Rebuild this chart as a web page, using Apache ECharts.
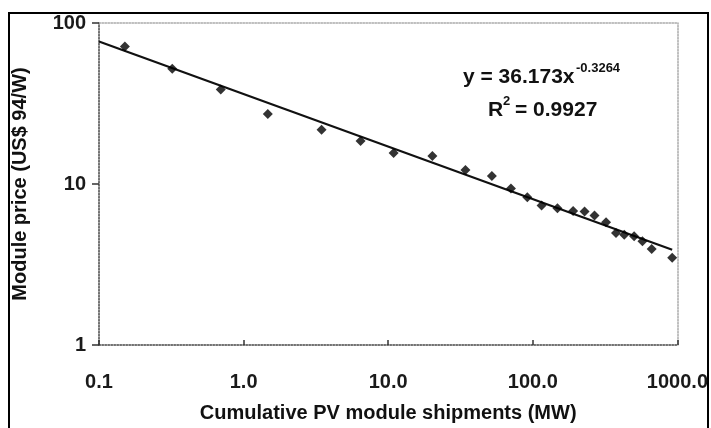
<!DOCTYPE html>
<html>
<head>
<meta charset="utf-8">
<script src="https://cdn.jsdelivr.net/npm/echarts@6/dist/echarts.min.js"></script>
<style>
html,body{margin:0;padding:0;background:#fff;}
#chart{width:711px;height:428px;}
</style>
</head>
<body>
<div id="chart"></div>
<script>
// Cumulative PV module shipments (MW)
const shipments = [0.151, 0.321, 0.695, 1.47, 3.46, 6.44, 10.9, 20.2, 34.2, 52.1, 70.6, 91.6, 115, 148, 190, 228, 267, 321, 376, 429, 502, 573, 664, 920];
// Module price (US$ 94/W)
const prices = [71.5, 51.9, 38.7, 27.2, 21.7, 18.5, 15.6, 14.9, 12.2, 11.2, 9.38, 8.26, 7.34, 7.06, 6.80, 6.75, 6.37, 5.79, 4.96, 4.84, 4.73, 4.41, 3.95, 3.48];
// Power-law trendline end points
const trendX = [0.1, 920];
const trendY = [76.7, 3.9];
// Tick labels
const xTickLabels = ['0.1', '1.0', '10.0', '100.0', '1000.0'];
const yTickLabels = ['1', '10', '100'];
const equationText = 'y = 36.173x';
const exponentText = '-0.3264';
const r2Text = '= 0.9927';

const FONT = 'Liberation Sans, Arial, sans-serif';
const chart = echarts.init(document.getElementById('chart'));

const option = {
  animation: false,
  backgroundColor: '#fff',
  grid: { left: 99, top: 23, right: 29, bottom: 80 },
  xAxis: [{
    type: 'log', logBase: 10, min: 0.1, max: 1000, position: 'bottom',
    axisLine: { show: true, lineStyle: { color: '#444', type: 'dotted', width: 1.5 } },
    axisTick: { show: true, inside: true, length: 5, lineStyle: { color: '#333', width: 1.5 } },
    minorTick: { show: false },
    splitLine: { show: false },
    axisLabel: {
      margin: 27, fontSize: 20, fontWeight: 'bold', color: '#1a1a1a', fontFamily: FONT,
      formatter: v => xTickLabels[Math.round(Math.log10(v)) + 1]
    },
    name: 'Cumulative PV module shipments (MW)',
    nameLocation: 'middle', nameGap: 58,
    nameTextStyle: { fontSize: 20, fontWeight: 'bold', color: '#111', fontFamily: FONT }
  }, {
    type: 'log', logBase: 10, min: 0.1, max: 1000, position: 'top',
    axisLine: { show: true, lineStyle: { color: '#aaa', type: 'dotted', width: 1.5 } },
    axisTick: { show: false }, axisLabel: { show: false }, splitLine: { show: false }
  }],
  yAxis: [{
    type: 'log', logBase: 10, min: 1, max: 100, position: 'left',
    axisLine: { show: true, lineStyle: { color: '#444', type: 'dotted', width: 1.5 } },
    axisTick: { show: true, inside: false, length: 7, lineStyle: { color: '#333', width: 1.5 } },
    minorTick: { show: false },
    splitLine: { show: false },
    axisLabel: {
      margin: 13, fontSize: 20, fontWeight: 'bold', color: '#1a1a1a', fontFamily: FONT,
      formatter: v => yTickLabels[Math.round(Math.log10(v))]
    },
    name: 'Module price (US$ 94/W)',
    nameLocation: 'middle', nameGap: 69,
    nameTextStyle: { fontSize: 20, fontWeight: 'bold', color: '#111', fontFamily: FONT }
  }, {
    type: 'log', logBase: 10, min: 1, max: 100, position: 'right',
    axisLine: { show: true, lineStyle: { color: '#aaa', type: 'dotted', width: 1.5 } },
    axisTick: { show: false }, axisLabel: { show: false }, splitLine: { show: false }
  }],
  series: [{
    type: 'line', xAxisIndex: 0, yAxisIndex: 0,
    data: trendX.map((x, i) => [x, trendY[i]]),
    showSymbol: false, symbol: 'none',
    lineStyle: { color: '#111', width: 2.2 }, z: 2
  }, {
    type: 'scatter', xAxisIndex: 0, yAxisIndex: 0,
    data: shipments.map((x, i) => [x, prices[i]]),
    symbol: 'diamond', symbolSize: 10,
    itemStyle: { color: '#000' }, z: 3
  }],
  graphic: [
    { type: 'rect', shape: { x: 9, y: 13, width: 699, height: 440 },
      style: { fill: 'none', stroke: '#000', lineWidth: 2 }, silent: true },
    { type: 'text', x: 463, y: 77,
      style: { text: equationText, fontSize: 21, fontWeight: 'bold', fontFamily: FONT, fill: '#111', align: 'left', verticalAlign: 'middle' } },
    { type: 'text', x: 576, y: 68,
      style: { text: exponentText, fontSize: 13, fontWeight: 'bold', fontFamily: FONT, fill: '#111', align: 'left', verticalAlign: 'middle' } },
    { type: 'text', x: 488, y: 110,
      style: { text: 'R', fontSize: 21, fontWeight: 'bold', fontFamily: FONT, fill: '#111', align: 'left', verticalAlign: 'middle' } },
    { type: 'text', x: 503, y: 101,
      style: { text: '2', fontSize: 13, fontWeight: 'bold', fontFamily: FONT, fill: '#111', align: 'left', verticalAlign: 'middle' } },
    { type: 'text', x: 515, y: 110,
      style: { text: r2Text, fontSize: 21, fontWeight: 'bold', fontFamily: FONT, fill: '#111', align: 'left', verticalAlign: 'middle' } }
  ]
};
chart.setOption(option);
</script>
</body>
</html>
